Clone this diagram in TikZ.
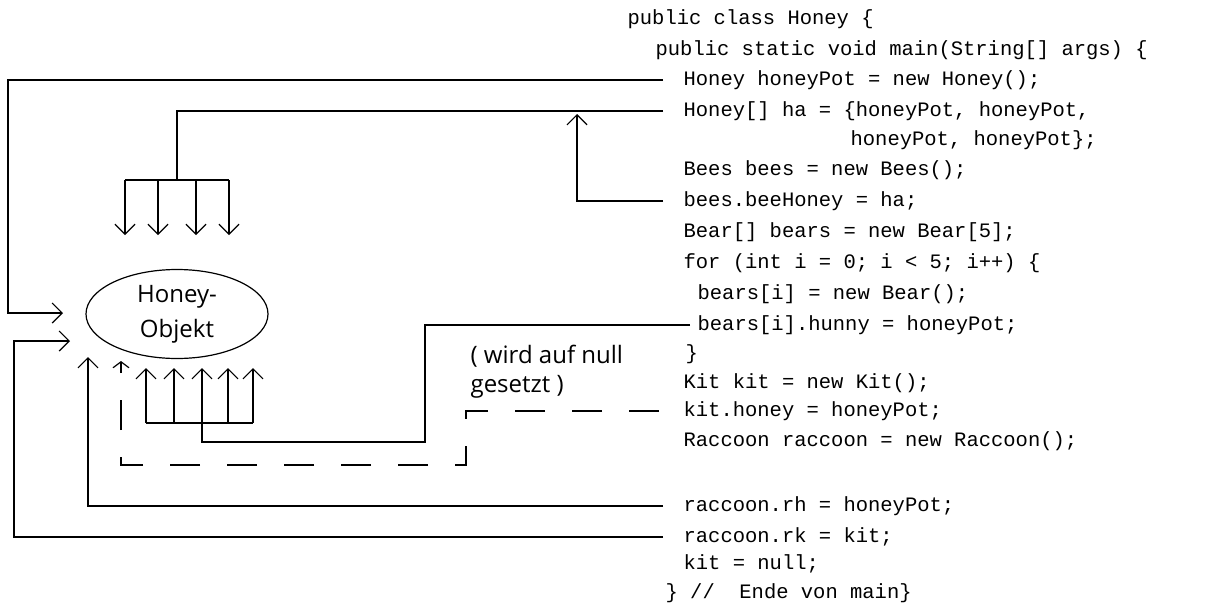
\documentclass[tikz,border=0pt]{standalone}
\usepackage{fontspec}
\setmonofont{Liberation Mono}
\setsansfont{Open Sans}
\usepackage{tikz}
\usetikzlibrary{shapes.geometric, arrows.meta}

\begin{document}
\begin{tikzpicture}[
    x=0.5pt, y=-0.5pt,
    line width=0.6pt,
    code/.style={anchor=west, inner xsep=10pt, inner ysep=0pt, text height=7pt, text depth=2pt, font=\fontsize{10.25}{12}\selectfont\ttfamily},
    ref/.style={-{Straight Barb[length=5pt, width=10pt]}},
    nullref/.style={dash pattern=on 15pt off 13.5pt, dash phase=26.5pt, -{Straight Barb[length=3pt, width=8pt]}},
    object/.style={draw, ellipse, inner sep=0pt, minimum width=91pt, minimum height=44.5pt, align=center, font=\fontsize{12}{17.5}\selectfont\sffamily},
    note/.style={anchor=west, align=left, inner sep=0pt, font=\fontsize{12}{14.5}\selectfont\sffamily}
]
    \useasboundingbox (0,0) rectangle (1230,605);

    % Java code
    \node[code] (l1) at (607,20) {public class Honey \{};
    \node[code] (l2) at (635,50) {public static void main(String[] args) \{};
    \node[code] (l3) at (663,80) {Honey honeyPot = new Honey();};
    \node[code] (l4) at (663,111) {Honey[] ha = \{honeyPot, honeyPot,};
    \node[code] (l5) at (830,140) {honeyPot, honeyPot\};};
    \node[code] (l6) at (663,170) {Bees bees = new Bees();};
    \node[code] (l7) at (663,201) {bees.beeHoney = ha;};
    \node[code] (l8) at (663,232) {Bear[] bears = new Bear[5];};
    \node[code] (l9) at (663,263) {for (int i = 0; i < 5; i++) \{};
    \node[code] (l10) at (677,294) {bears[i] = new Bear();};
    \node[code] (l11) at (677,325) {bears[i].hunny = honeyPot;};
    \node[code] (l12) at (665,354) {\}};
    \node[code] (l13) at (663,383) {Kit kit = new Kit();};
    \node[code] (l14) at (663,411) {kit.honey = honeyPot;};
    \node[code] (l15) at (663,441) {Raccoon raccoon = new Raccoon();};
    \node[code] (l16) at (663,506) {raccoon.rh = honeyPot;};
    \node[code] (l17) at (663,537) {raccoon.rk = kit;};
    \node[code] (l18) at (663,564) {kit = null;};
    \node[code] (l19) at (645,593) {\}~//~~Ende von main\}};

    % Honey object
    \node[object] (honey) at (177,314) {Honey-\\Objekt};
    \node[note] (setnull) at (470,372) {( wird auf null\\gesetzt )};

    % arrow ends
    \coordinate (fork) at (177,180);
    \coordinate (d1) at (125,235);
    \coordinate (d2) at (158,235);
    \coordinate (d3) at (196,235);
    \coordinate (d4) at (229,235);
    \coordinate (u1) at (146,368);
    \coordinate (u2) at (174,368);
    \coordinate (u3) at (202,368);
    \coordinate (u4) at (228,368);
    \coordinate (u5) at (253,368);
    \coordinate (ubar) at (202,423);
    \coordinate (bturn) at (425,442);
    \coordinate (c1) at (8,313);
    \coordinate (a1) at (63,313);
    \coordinate (c2) at (14,341);
    \coordinate (a2) at (70,341);
    \coordinate (a3) at (88,357);
    \coordinate (a4) at (577,114);
    \coordinate (c3) at (466,465);
    \coordinate (a5) at (121,361);

    % references to the object
    \draw[ref] (l3.west) -| (c1) -- (a1);
    \draw[ref] (l17.west) -| (c2) -- (a2);
    \draw[ref] (l16.west) -| (a3);
    \draw[ref] (l7.west) -| (a4);
    \draw[nullref] (l14.west) -| (c3) -| (a5);

    % array ha
    \draw (l4.west) -| (fork);
    \draw (d1 |- fork) -- (d4 |- fork);
    \draw[ref] (d1 |- fork) -- (d1);
    \draw[ref] (d2 |- fork) -- (d2);
    \draw[ref] (d3 |- fork) -- (d3);
    \draw[ref] (d4 |- fork) -- (d4);

    % bears
    \draw ([xshift=6.5pt]l11.west) -| (bturn) -| (ubar);
    \draw (u1 |- ubar) -- (u5 |- ubar);
    \draw[ref] (u1 |- ubar) -- (u1);
    \draw[ref] (u2 |- ubar) -- (u2);
    \draw[ref] (u3 |- ubar) -- (u3);
    \draw[ref] (u4 |- ubar) -- (u4);
    \draw[ref] (u5 |- ubar) -- (u5);
\end{tikzpicture}
\end{document}
